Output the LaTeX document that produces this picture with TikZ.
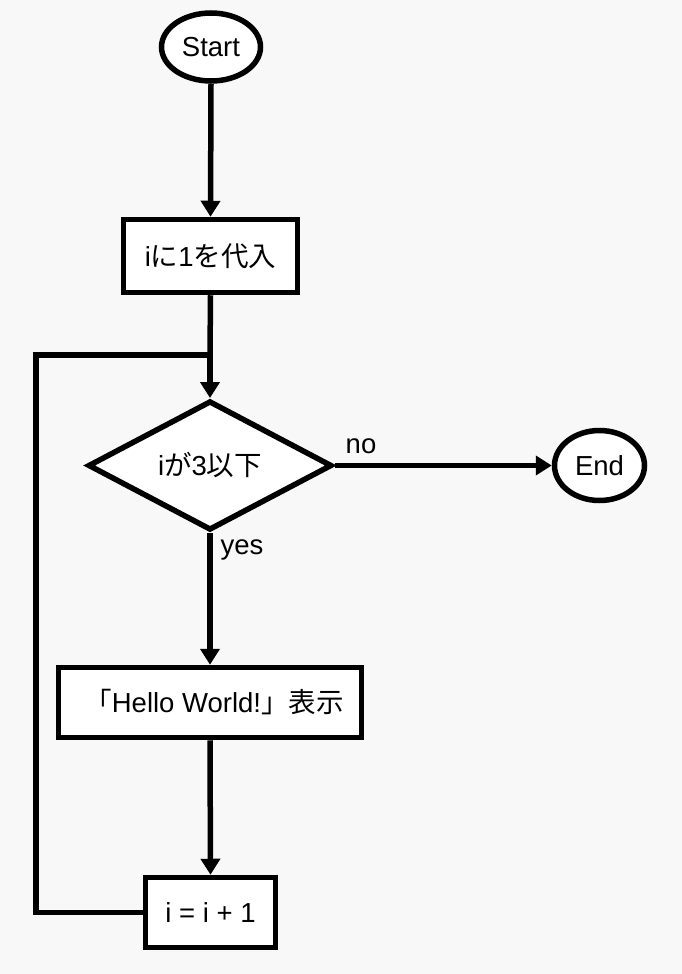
\documentclass[tikz,border=0pt]{standalone}
\usepackage{fontspec}
\setmainfont{Liberation Sans}
\newfontfamily\cjk{Noto Sans CJK JP}
\usetikzlibrary{shapes.geometric,arrows.meta}
\definecolor{bgc}{RGB}{248,248,248}
\tikzset{
  base/.style={draw=black, line width=5.5pt, fill=white, inner sep=0pt,
    font=\fontsize{27.5}{31}\selectfont},
  term/.style={base, ellipse},
  procbox/.style={base, rectangle},
  decide/.style={base, diamond},
  conn/.style={line width=5.5pt, draw=black},
  arr/.style={conn, -{Triangle[length=16pt,width=19pt]}},
  lbl/.style={font=\fontsize{27.5}{31}\selectfont, inner sep=0pt}
}
\begin{document}
\begin{tikzpicture}[x=1pt,y=-1pt]
\fill[bgc] (0,0) rectangle (682,974);
\useasboundingbox (0,0) rectangle (682,974);
\node[term, minimum width=99pt, minimum height=68pt] (start) at (211,47) {Start};
\node[procbox, minimum width=174pt, minimum height=73pt] (init) at (210.5,256) {i{\cjk に}1{\cjk を代入}};
\node[decide, minimum width=244pt, minimum height=116pt] (cond) at (210,465.5) {i{\cjk が}3{\cjk 以下}};
\node[term, minimum width=90pt, minimum height=70pt] (end) at (599.5,465.5) {End};
\node[procbox, minimum width=303pt, minimum height=70pt] (hello) at (210,702.5) {\hspace*{8pt}{\cjk 「}Hello World!{\cjk 」表示}};
\node[procbox, minimum width=130pt, minimum height=70pt] (inc) at (210.5,912.5) {i = i + 1};
\coordinate (join) at (210,355);
\coordinate (lb) at (36,912.5);
\coordinate (lt) at (36,355);
\draw[arr] (start.south) -- (init.north);
\draw[conn] (init.south) -- (join);
\draw[arr] (join) -- (cond.north);
\draw[arr] (cond.east) -- (end.west);
\draw[arr] (cond.south) -- (hello.north);
\draw[arr] (hello.south) -- (inc.north);
\draw[conn, line join=miter] (inc.west) -- (lb) -- (lt) -- (join);
\node[lbl] (no) at (361,446) {no};
\node[lbl] (yes) at (242,550) {yes};
\end{tikzpicture}
\end{document}
